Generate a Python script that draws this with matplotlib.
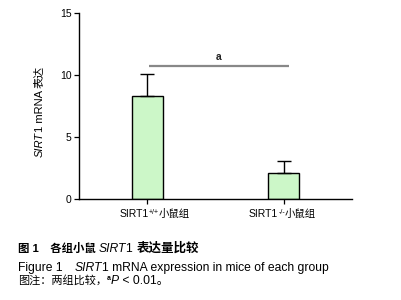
import matplotlib
matplotlib.use("Agg")
import matplotlib.pyplot as plt

# data
groups = ["+/+", "-/-"]
means = [8.3, 2.1]
sds = [1.8, 1.0]
yticks = [0, 5, 10, 15]
sig_y = 10.7

LAT = "Liberation Sans"
CJK = "Noto Sans CJK SC"
MIX = [LAT, CJK]

W, H = 401, 300
fig = plt.figure(figsize=(W / 100, H / 100), dpi=100)
ax = fig.add_axes([79 / W, 1 - 199 / H, 273 / W, 186 / H])

x = range(len(groups))
ax.bar(x, means, width=0.23, color="#ccf7c8", edgecolor="black", linewidth=1.0, zorder=2)
ax.errorbar(x, means, yerr=[[0, 0], sds], fmt="none", ecolor="black",
            elinewidth=1.0, capsize=5, capthick=1.0, zorder=3)

# significance line
ax.plot([0.01, 1.04], [sig_y, sig_y], color="#888888", lw=1.6, solid_capstyle="butt")
ax.text(0.52, sig_y + 0.35, "a", ha="center", va="bottom", fontsize=7.5,
        family=LAT, fontweight="bold", color="#222222")

ax.set_xlim(-0.5, 1.5)
ax.set_ylim(0, 15)
ax.set_yticks(yticks)
ax.set_yticklabels([str(v) for v in yticks], family=LAT, fontsize=7.5)
ax.set_xticks(list(x))
ax.set_xticklabels(["", ""])
ax.tick_params(direction="out", length=3.5, width=0.9, colors="black", pad=2)
for s in ["top", "right"]:
    ax.spines[s].set_visible(False)
for s in ["left", "bottom"]:
    ax.spines[s].set_linewidth(1.0)

fig.canvas.draw()
renderer = fig.canvas.get_renderer()


def runs(x0, y0, parts, vertical=False):
    """draw text parts one after another from pixel (x0, y0), y from top"""
    pos = 0.0
    for txt, kw in parts:
        dy = kw.pop("dy", 0)
        if vertical:
            fx, fy = (x0 + dy) / W, 1 - (y0 - pos) / H
            t = fig.text(fx, fy, txt, rotation=90, rotation_mode="anchor",
                         ha="left", va="baseline", **kw)
            pos += t.get_window_extent(renderer).height
        else:
            fx, fy = (x0 + pos) / W, 1 - (y0 - dy) / H
            t = fig.text(fx, fy, txt, ha="left", va="baseline", **kw)
            pos += t.get_window_extent(renderer).width


# x tick labels
tick_px = [147.7, 284]
starts = [-28, -35]
for tx, st, g in zip(tick_px, starts, groups):
    runs(tx + st, 217, [
        ("SIRT1", dict(family=LAT, fontsize=7.5)),
        (g, dict(family=LAT, fontsize=5, dy=3.5)),
        ("小鼠组", dict(family=CJK, fontsize=7.5)),
    ])

# y label
runs(43, 157, [
    ("SIRT", dict(family=LAT, fontsize=8, style="italic")),
    ("1 mRNA ", dict(family=LAT, fontsize=8)),
    ("表达", dict(family=CJK, fontsize=8)),
], vertical=True)

# caption
runs(18, 252, [
    ("图 1　各组小鼠 ", dict(family=MIX, fontsize=8.2, fontweight="bold")),
    ("SIRT", dict(family=LAT, fontsize=8.7, style="italic")),
    ("1 ", dict(family=LAT, fontsize=8.7)),
    ("表达量比较", dict(family=CJK, fontsize=9, fontweight="bold")),
])
runs(18, 271, [
    ("Figure 1　", dict(family=MIX, fontsize=8.7)),
    ("SIRT", dict(family=LAT, fontsize=8.7, style="italic")),
    ("1 mRNA expression in mice of each group", dict(family=LAT, fontsize=8.7)),
])
runs(18, 284, [
    ("图注：两组比较，", dict(family=CJK, fontsize=8)),
    ("a", dict(family=LAT, fontsize=5, fontweight="bold", dy=3.5)),
    ("P", dict(family=LAT, fontsize=8.7, style="italic")),
    (" < 0.01。", dict(family=MIX, fontsize=8.7)),
])

fig.savefig("out.png", dpi=100)
